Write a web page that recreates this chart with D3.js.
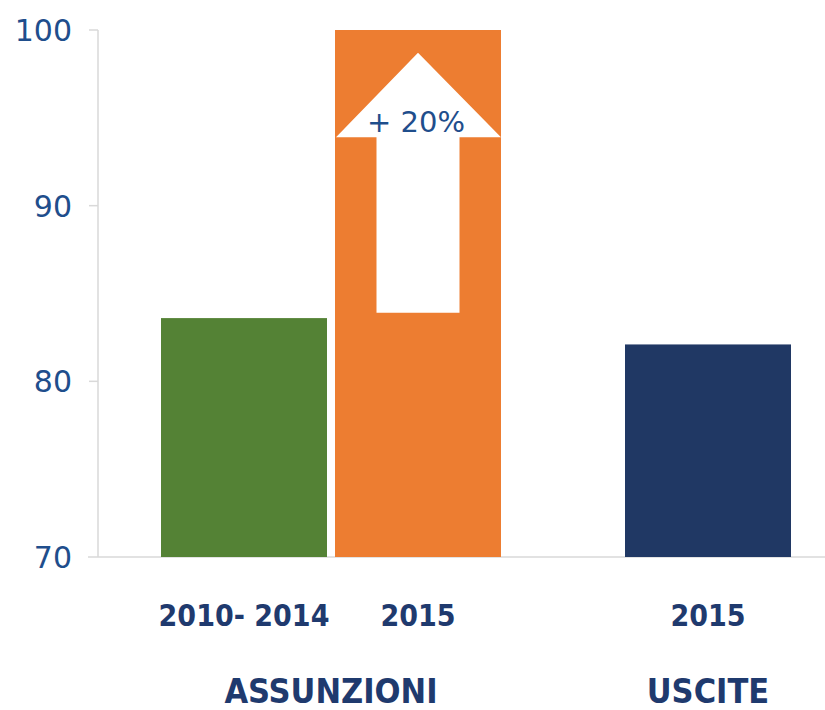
<!DOCTYPE html>
<html>
<head>
<meta http-equiv='Content-Type' content='text/html;charset=utf-8'/>
<title>Assunzioni e uscite</title>
<script src='https://d3js.org/d3.v7.min.js'></script>
<style>
body {
	margin: 0;
	background: #ffffff;
}
.tick-label {
	font-family: 'DejaVu Sans', sans-serif;
	font-size: 30px;
	fill: #1f4e8c;
}
.cat-label {
	font-family: 'DejaVu Sans Condensed', 'DejaVu Sans', sans-serif;
	font-weight: bold;
	font-size: 30px;
	fill: #1f3a6e;
}
.group-label {
	font-family: 'DejaVu Sans Condensed', 'DejaVu Sans', sans-serif;
	font-weight: bold;
	font-size: 34px;
	fill: #1f3a6e;
}
</style>
</head>
<body>
<script>
'use strict'

// data
const groups = ['ASSUNZIONI', 'USCITE']
const categories = ['2010- 2014', '2015', '2015']
const categoryGroups = ['ASSUNZIONI', 'ASSUNZIONI', 'USCITE']
const values = [83.6, 100, 82.1]
const colours = ['#548235', '#ed7d31', '#203864']
const yTicks = [70, 80, 90, 100]

// arrow on the 2015 bar, in axis units
const arrowLabel = '+ 20%'
const arrowBottom = 83.9
const arrowHeadBase = 93.9
const arrowTip = 98.7

const width = 825
const height = 710
const axisX = 98
const plotTop = 30
const plotBottom = 557
const barStep = 174
const barGap = 8

const svg = d3.select('body').append('svg')
	.attr('width', width)
	.attr('height', height)

const y = d3.scaleLinear()
	.domain([70, 100])
	.range([plotBottom, plotTop])

const groupX = d3.scalePoint()
	.domain(groups)
	.range([331, 708])

// one inner band scale per group so every bar keeps the same width
const inner = {}
groups.forEach(function (g) {
	const idx = d3.range(categories.length).filter(function (i) { return categoryGroups[i] == g })
	const c = groupX(g)
	inner[g] = d3.scaleBand()
		.domain(idx)
		.range([c - idx.length * barStep / 2, c + idx.length * barStep / 2])
		.paddingInner(barGap / barStep)
		.paddingOuter(barGap / barStep / 2)
})

const bars = d3.range(categories.length).map(function (i) {
	const g = categoryGroups[i]
	return {
		i: i,
		x: inner[g](i),
		w: inner[g].bandwidth(),
		value: values[i],
		colour: colours[i],
		label: categories[i]
	}
})

// axis lines
svg.append('line')
	.attr('x1', axisX).attr('x2', axisX)
	.attr('y1', y(100)).attr('y2', y(70))
	.attr('stroke', '#d9d9d9')
	.attr('stroke-width', 1.5)

svg.append('line')
	.attr('x1', axisX - 10).attr('x2', width)
	.attr('y1', y(70)).attr('y2', y(70))
	.attr('stroke', '#d9d9d9')
	.attr('stroke-width', 1.5)

svg.selectAll('.tick-mark')
	.data(yTicks.filter(function (t) { return t != 70 }))
	.enter().append('line')
	.attr('class', 'tick-mark')
	.attr('x1', axisX - 9).attr('x2', axisX)
	.attr('y1', function (d) { return y(d) })
	.attr('y2', function (d) { return y(d) })
	.attr('stroke', '#d9d9d9')
	.attr('stroke-width', 1.5)

svg.selectAll('.tick-label')
	.data(yTicks)
	.enter().append('text')
	.attr('class', 'tick-label')
	.attr('x', 72)
	.attr('y', function (d) { return y(d) + 11 })
	.attr('text-anchor', 'end')
	.text(function (d) { return d })

// bars
svg.selectAll('.bar')
	.data(bars)
	.enter().append('rect')
	.attr('class', 'bar')
	.attr('x', function (d) { return d.x })
	.attr('width', function (d) { return d.w })
	.attr('y', function (d) { return y(d.value) })
	.attr('height', function (d) { return y(70) - y(d.value) })
	.attr('fill', function (d) { return d.colour })

// white arrow drawn on the orange bar
const ob = bars[1]
const cx = ob.x + ob.w / 2
const shaftHalf = ob.w / 4
const arrow = d3.path()
arrow.moveTo(cx - shaftHalf, y(arrowBottom))
arrow.lineTo(cx - shaftHalf, y(arrowHeadBase))
arrow.lineTo(ob.x + 1, y(arrowHeadBase))
arrow.lineTo(cx, y(arrowTip))
arrow.lineTo(ob.x + ob.w, y(arrowHeadBase))
arrow.lineTo(cx + shaftHalf, y(arrowHeadBase))
arrow.lineTo(cx + shaftHalf, y(arrowBottom))
arrow.closePath()

svg.append('path')
	.attr('d', arrow.toString())
	.attr('fill', '#ffffff')

svg.append('text')
	.attr('class', 'tick-label')
	.attr('x', cx - 2)
	.attr('y', y(arrowHeadBase) - 5)
	.attr('text-anchor', 'middle')
	.style('font-size', '29px')
	.text(arrowLabel)

// category and group labels
svg.selectAll('.cat-label')
	.data(bars)
	.enter().append('text')
	.attr('class', 'cat-label')
	.attr('x', function (d) { return d.x + d.w / 2 })
	.attr('y', 626)
	.attr('text-anchor', 'middle')
	.text(function (d) { return d.label })

svg.selectAll('.group-label')
	.data(groups)
	.enter().append('text')
	.attr('class', 'group-label')
	.attr('x', function (d) { return groupX(d) })
	.attr('y', 703)
	.attr('text-anchor', 'middle')
	.text(function (d) { return d })
</script>
</body>
</html>
